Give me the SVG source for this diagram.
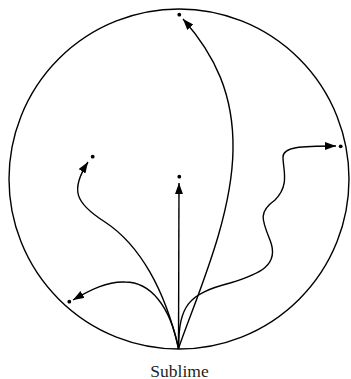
<svg xmlns="http://www.w3.org/2000/svg" width="351" height="379" viewBox="0 0 351 379">
<style>
.edge{fill:none;stroke:#000;stroke-width:1.4}
.dot{fill:#000}
.lbl{font-family:"Liberation Serif",serif;font-size:17.5px;fill:#231f20}
</style>
<defs>
<marker id="ah" markerUnits="userSpaceOnUse" markerWidth="12" markerHeight="9" refX="11" refY="4" orient="auto">
<path d="M0,0 L11,4 L0,8 z" fill="#000"/>
</marker>
</defs>
<rect width="351" height="379" fill="#fff"/>
<g id="boundary"><circle cx="179" cy="179" r="170" fill="none" stroke="#000" stroke-width="1.4"/></g>
<g id="connectors">
<path class="edge" marker-end="url(#ah)" d="M178.5,348.5 L179,183"/>
<path class="edge" marker-end="url(#ah)" d="M178.5,348.5 C195,300 232,220 233,150 C234,95 215,55 183,19"/>
<path class="edge" marker-end="url(#ah)" d="M178.5,348.5 C165,290 140,245 105,222 C75,203 70,190 88,162"/>
<path class="edge" marker-end="url(#ah)" d="M178.5,348.5 C170,305 150,282 125,282 C108,281 90,290 73,300"/>
<path class="edge" marker-end="url(#ah)" d="M178.5,348.5 C179,305 188,294 230,283 C260,274 280,265 270,240 C262,220 258,212 275,200 C290,185 283,170 283,157 C283,147 300,146 336,146"/>
</g>
<g id="n-top"><circle class="dot" cx="179.3" cy="14.7" r="1.9"/></g>
<g id="n-center"><circle class="dot" cx="179.3" cy="176.7" r="1.9"/></g>
<g id="n-upleft"><circle class="dot" cx="92.7" cy="156.7" r="1.9"/></g>
<g id="n-right"><circle class="dot" cx="340.7" cy="146.3" r="1.9"/></g>
<g id="n-lowleft"><circle class="dot" cx="69.3" cy="301.7" r="1.9"/></g>
<g id="n-sublime"><text class="lbl" x="179.5" y="376.5" text-anchor="middle">Sublime</text></g>
</svg>
